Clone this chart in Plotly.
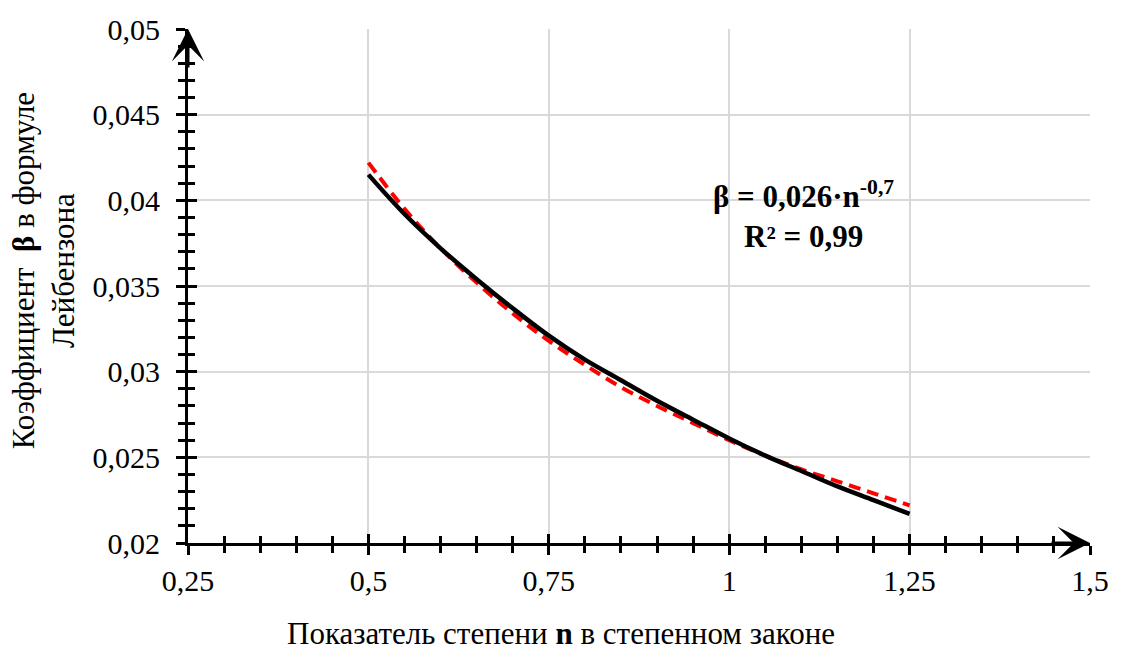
import plotly.graph_objects as go

# Data
n_data = [0.5, 0.55, 0.6, 0.65, 0.7, 0.75, 0.8, 0.85, 0.9, 0.95, 1.0, 1.05, 1.1, 1.15, 1.2, 1.25]
beta_data = [0.0415, 0.0392, 0.0372, 0.0354, 0.0337, 0.0321, 0.0307, 0.0295, 0.0283, 0.0272,
             0.0261, 0.0251, 0.0242, 0.0233, 0.0225, 0.0217]
n_fit = [0.5, 0.55, 0.6, 0.65, 0.7, 0.75, 0.8, 0.85, 0.9, 0.95, 1.0, 1.05, 1.1, 1.15, 1.2, 1.25]
beta_fit = [0.0422, 0.0395, 0.0372, 0.0352, 0.0334, 0.0318, 0.0304, 0.0291, 0.0280, 0.0270,
            0.0260, 0.0251, 0.0243, 0.0236, 0.0229, 0.0222]

x_range = [0.25, 1.5]
y_range = [0.02, 0.05]
x_ticks = [0.25, 0.5, 0.75, 1.0, 1.25, 1.5]
x_ticklabels = ["0,25", "0,5", "0,75", "1", "1,25", "1,5"]
y_ticks = [0.02, 0.025, 0.03, 0.035, 0.04, 0.045, 0.05]
y_ticklabels = ["0,02", "0,025", "0,03", "0,035", "0,04", "0,045", "0,05"]

FONT = "Times New Roman, Liberation Serif, DejaVu Serif, serif"
FS = 31
TFS = 30

fig = go.Figure()
fig.add_trace(go.Scatter(x=n_fit, y=beta_fit, mode="lines",
                         line=dict(color="#ff0000", width=4, dash="12px,7px", shape="spline"),
                         showlegend=False, hoverinfo="skip"))
fig.add_trace(go.Scatter(x=n_data, y=beta_data, mode="lines",
                         line=dict(color="#000000", width=4.5, shape="spline"),
                         showlegend=False))
# invisible trace for the overlay axes (inner tick marks)
fig.add_trace(go.Scatter(x=[None], y=[None], xaxis="x2", yaxis="y2", showlegend=False))

common_axis = dict(showline=True, linecolor="black", linewidth=3, tickcolor="black", tickwidth=3, zeroline=False)

fig.update_layout(
    width=1121, height=652,
    margin=dict(l=188, r=20, t=28, b=109),
    plot_bgcolor="white", paper_bgcolor="white",
    font=dict(family=FONT, size=FS, color="black"),
    separators=", ",
    xaxis=dict(range=x_range, tickvals=x_ticks, ticktext=x_ticklabels, ticks="outside", ticklen=9,
               showgrid=True, gridcolor="#d9d9d9", gridwidth=1.5, ticklabelstandoff=0,
               minor=dict(dtick=0.05, tick0=0.25, ticks="outside", ticklen=7, tickwidth=3, tickcolor="black", showgrid=False),
               tickfont=dict(family=FONT, size=TFS, color="black"), **common_axis),
    yaxis=dict(range=y_range, tickvals=y_ticks, ticktext=y_ticklabels, ticks="outside", ticklen=9,
               showgrid=True, gridcolor="#d9d9d9", gridwidth=1.5, ticklabelstandoff=10,
               minor=dict(dtick=0.001, tick0=0.02, ticks="outside", ticklen=7, tickwidth=3, tickcolor="black", showgrid=False),
               tickfont=dict(family=FONT, size=TFS, color="black"), **common_axis),
    xaxis2=dict(range=x_range, overlaying="x", anchor="y2", tickvals=x_ticks, ticks="inside", ticklen=9,
                showticklabels=False, showgrid=False,
                minor=dict(dtick=0.05, tick0=0.25, ticks="inside", ticklen=7, tickwidth=3, tickcolor="black", showgrid=False),
                **common_axis),
    yaxis2=dict(range=y_range, overlaying="y", anchor="x2", tickvals=y_ticks, ticks="inside", ticklen=9,
                showticklabels=False, showgrid=False,
                minor=dict(dtick=0.001, tick0=0.02, ticks="inside", ticklen=7, tickwidth=3, tickcolor="black", showgrid=False),
                **common_axis),
)

# axis arrows
fig.add_annotation(x=0.25, y=0.05, ax=0, ay=40, xref="x", yref="y",
                   text="", showarrow=True, arrowhead=3, arrowsize=1.8, arrowwidth=3, arrowcolor="black")
fig.add_annotation(x=1.5, y=0.02, ax=-40, ay=0, xref="x", yref="y",
                   text="", showarrow=True, arrowhead=3, arrowsize=1.8, arrowwidth=3, arrowcolor="black")

# equation
fig.add_annotation(x=1.103, y=0.0392, xref="x", yref="y", showarrow=False,
                   text="<b>β = 0,026·n<sup>-0,7</sup></b><br><b>R² = 0,99</b>",
                   font=dict(size=FS, family=FONT, color="black"), align="center")

# axis titles
fig.add_annotation(x=-0.160, y=0.53, xref="paper", yref="paper", showarrow=False, textangle=-90,
                   text="Коэффициент  <b>β</b> в формуле<br>Лейбензона", font=dict(size=FS, family=FONT, color="black"),
                   align="center", xanchor="center", yanchor="middle")
fig.add_annotation(x=0.413, y=-0.177, xref="paper", yref="paper", showarrow=False,
                   text="Показатель степени <b>n</b> в степенном законе", font=dict(size=FS, family=FONT, color="black"),
                   xanchor="center", yanchor="middle")

fig.write_html("out.html")
